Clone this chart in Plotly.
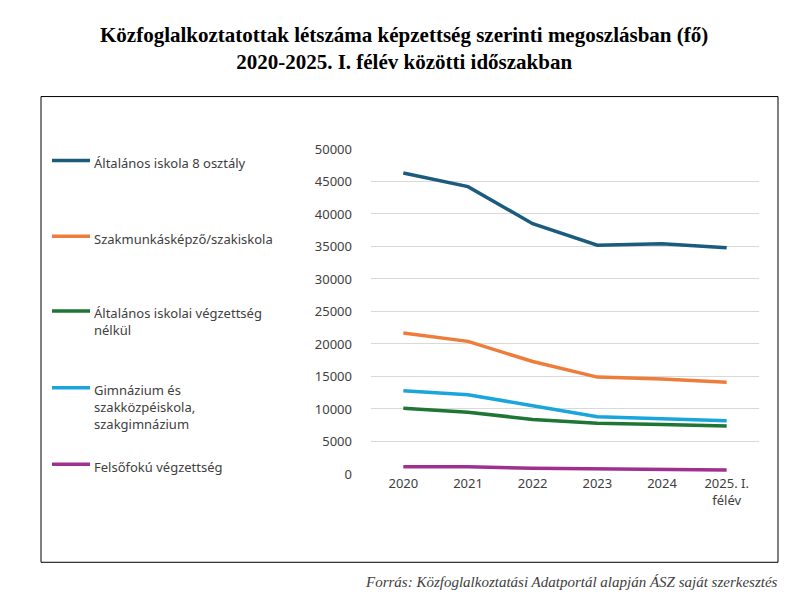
import plotly.graph_objects as go

W, H = 792, 605

years = ["2020", "2021", "2022", "2023", "2024", "2025. I.<br>félév"]
series_names = [
    "Általános iskola 8 osztály",
    "Szakmunkásképző/szakiskola",
    "Általános iskolai végzettség<br>nélkül",
    "Gimnázium és<br>szakközpéiskola,<br>szakgimnázium",
    "Felsőfokú végzettség",
]
altalanos8 = [46300, 44200, 38500, 35200, 35400, 34800]
szakmunkas = [21700, 20400, 17300, 14900, 14600, 14100]
vegzettseg_nelkul = [10100, 9500, 8400, 7800, 7600, 7400]
gimnazium = [12800, 12200, 10500, 8800, 8500, 8200]
felsofoku = [1100, 1100, 900, 800, 800, 600]
values = [altalanos8, szakmunkas, vegzettseg_nelkul, gimnazium, felsofoku]
colors = ["#1a5b7e", "#ee7d3b", "#1e7534", "#1aa5db", "#a0308f"]

fig = go.Figure()
for name, vals, c in zip(series_names, values, colors):
    fig.add_trace(go.Scatter(x=years, y=vals, mode="lines", name=name,
                             line=dict(color=c, width=3.5), showlegend=False))

# hand-drawn legend on the left
legend_y = [148, 226, 303, 382, 461]
shapes = [dict(type="rect", xref="paper", yref="paper",
               x0=33 / W, x1=770 / W, y0=1 - 562 / H, y1=1 - 82 / H,
               line=dict(color="black", width=1))]
annotations = []
for name, c, py_ in zip(series_names, colors, legend_y):
    yp = 1 - py_ / H
    shapes.append(dict(type="line", xref="paper", yref="paper",
                       x0=44 / W, x1=82 / W, y0=yp, y1=yp,
                       line=dict(color=c, width=3.5)))
    annotations.append(dict(xref="paper", yref="paper", x=84 / W, y=yp + 9 / H,
                            text=name, showarrow=False, xanchor="left", yanchor="top",
                            align="left", font=dict(size=13, color="#404040",
                                                    family="Noto Sans")))

annotations.append(dict(xref="paper", yref="paper", x=0.5, y=1 - 4 / H,
                        text="<b>Közfoglalkoztatottak létszáma képzettség szerinti megoszlásban (fő)<br>2020-2025. I. félév közötti időszakban</b>",
                        showarrow=False, xanchor="center", yanchor="top",
                        font=dict(size=21, family="Liberation Serif", color="black")))
annotations.append(dict(xref="paper", yref="paper", x=772 / W, y=1 - 582 / H,
                        text="<i>Forrás: Közfoglalkoztatási Adatportál alapján ÁSZ saját szerkesztés</i>",
                        showarrow=False, xanchor="right", yanchor="middle",
                        font=dict(size=15, family="Liberation Serif", color="#404040")))

fig.update_layout(
    width=W, height=H, margin=dict(l=0, r=0, t=0, b=0),
    plot_bgcolor="white", paper_bgcolor="white",
    shapes=shapes, annotations=annotations,
    xaxis=dict(domain=[363 / W, 751 / W], range=[-0.5, 5.5], showgrid=False,
               tickfont=dict(size=13, color="#404040", family="Noto Sans"),
               ticks="", showline=False),
    yaxis=dict(domain=[1 - 471 / H, 1 - 136 / H], range=[0, 50000], dtick=5000,
               tickformat="d", gridcolor="#d9d9d9", zeroline=False, ticks="",
               ticklabelstandoff=18,
               tickfont=dict(size=13, color="#404040", family="Noto Sans")),
)

fig.write_html("out.html")
